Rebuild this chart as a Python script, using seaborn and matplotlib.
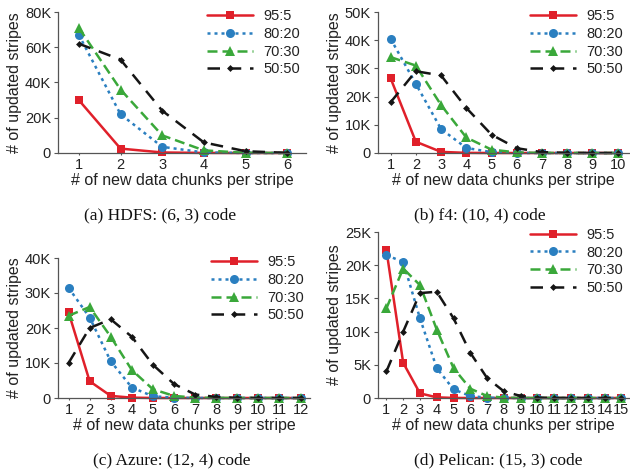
import numpy as np
import pandas as pd
import matplotlib
matplotlib.use("Agg")
import matplotlib.pyplot as plt
import seaborn as sns

sns.set_style("ticks")
plt.rcParams['font.family'] = ['Liberation Sans', 'DejaVu Sans']

ratios = ["95:5", "80:20", "70:30", "50:50"]

# (a) HDFS (6,3)
hdfs_x = [1, 2, 3, 4, 5, 6]
hdfs_95 = [30000, 2500, 300, 50, 0, 0]
hdfs_80 = [67000, 22000, 3500, 300, 20, 0]
hdfs_70 = [71000, 36000, 10000, 1500, 100, 0]
hdfs_50 = [62000, 53000, 24000, 6000, 1000, 100]

# (b) f4 (10,4)
f4_x = [1, 2, 3, 4, 5, 6, 7, 8, 9, 10]
f4_95 = [26500, 4000, 400, 50, 0, 0, 0, 0, 0, 0]
f4_80 = [40500, 24500, 8500, 1800, 300, 30, 0, 0, 0, 0]
f4_70 = [34000, 31000, 17000, 5500, 1200, 200, 20, 0, 0, 0]
f4_50 = [18000, 29000, 27500, 16000, 6500, 1700, 300, 50, 0, 0]

# (c) Azure (12,4)
azure_x = list(range(1, 13))
azure_95 = [24500, 4800, 600, 100, 10, 0, 0, 0, 0, 0, 0, 0]
azure_80 = [31500, 23000, 10500, 3000, 500, 100, 10, 0, 0, 0, 0, 0]
azure_70 = [23500, 26000, 17500, 8000, 2500, 600, 100, 10, 0, 0, 0, 0]
azure_50 = [10000, 20000, 22500, 17500, 9500, 4000, 1000, 300, 50, 0, 0, 0]

# (d) Pelican (15,3)
pelican_x = list(range(1, 16))
pelican_95 = [22300, 5300, 700, 100, 10, 0, 0, 0, 0, 0, 0, 0, 0, 0, 0]
pelican_80 = [21500, 20500, 12000, 4500, 1300, 300, 50, 0, 0, 0, 0, 0, 0, 0, 0]
pelican_70 = [13500, 19500, 17000, 10300, 4500, 1400, 300, 50, 0, 0, 0, 0, 0, 0, 0]
pelican_50 = [4000, 10000, 15800, 16000, 12000, 6800, 3000, 1000, 300, 50, 0, 0, 0, 0, 0]

panels = [
    ("(a) HDFS: (6, 3) code", hdfs_x, [hdfs_95, hdfs_80, hdfs_70, hdfs_50], 80000, 20000),
    ("(b) f4: (10, 4) code", f4_x, [f4_95, f4_80, f4_70, f4_50], 50000, 10000),
    ("(c) Azure: (12, 4) code", azure_x, [azure_95, azure_80, azure_70, azure_50], 40000, 10000),
    ("(d) Pelican: (15, 3) code", pelican_x, [pelican_95, pelican_80, pelican_70, pelican_50], 25000, 5000),
]

palette = {"95:5": "#e0202a", "80:20": "#2a7fc0", "70:30": "#3aa83a", "50:50": "#151515"}
markers = {"95:5": "s", "80:20": "o", "70:30": "^", "50:50": "D"}
dashes = {"95:5": "", "80:20": (1.2, 1.6), "70:30": (4, 2), "50:50": (5, 3.5)}
msizes = {"95:5": 6, "80:20": 6.5, "70:30": 7, "50:50": 3.5}

# axes rectangles in pixels: left, top, right, bottom
rects = [(58, 12, 306, 153), (378, 12, 629, 153), (58, 258, 310, 398), (378, 232, 629, 398)]
caps = [(160, 215), (480, 215), (172, 460), (498, 460)]

W, H = 630, 473
fig = plt.figure(figsize=(6.3, 4.73), dpi=100)

for (cap, xs, series, ymax, ystep), (l, t, r, b), (cx, cy) in zip(panels, rects, caps):
    ax = fig.add_axes([l / W, 1 - b / H, (r - l) / W, (b - t) / H])
    df = pd.DataFrame({
        "chunks": np.tile(xs, len(ratios)),
        "stripes": np.concatenate(series),
        "ratio": np.repeat(ratios, len(xs)),
    })
    sns.lineplot(data=df, x="chunks", y="stripes", hue="ratio", style="ratio",
                 palette=palette, markers=markers, dashes=dashes, hue_order=ratios,
                 style_order=ratios, linewidth=1.8, markeredgewidth=0, ax=ax, clip_on=False)
    for line, rt in zip(ax.lines, ratios):
        line.set_markersize(msizes[rt])
    ax.set_xlim(0.5, xs[-1] + 0.45)
    ax.set_ylim(0, ymax)
    ax.set_xticks(xs)
    yt = np.arange(0, ymax + 1, ystep)
    ax.set_yticks(yt)
    ax.set_yticklabels(["0" if v == 0 else f"{int(v / 1000)}K" for v in yt])
    ax.tick_params(labelsize=10.5, width=0.8, color="#555555", labelcolor="#222222", pad=2)
    ax.tick_params(axis="x", length=1.5)
    ax.tick_params(axis="y", length=3)
    sns.despine(ax=ax)
    for s in ["left", "bottom"]:
        ax.spines[s].set_color("#555555")
        ax.spines[s].set_linewidth(0.9)
    ax.set_xlabel("# of new data chunks per stripe", fontsize=11.5, color="#222222", labelpad=1)
    ax.set_ylabel("# of updated stripes", fontsize=11.5, color="#222222", labelpad=2)
    leg = ax.legend(loc="upper right", bbox_to_anchor=(1.0, 1.06), frameon=False,
                    fontsize=10.5, handlelength=3.2, handletextpad=0.7, labelspacing=0.25,
                    borderaxespad=0)
    for hl, rt in zip(leg.get_lines(), ratios):
        hl.set_markersize(msizes[rt])
        hl.set_markeredgewidth(0)
    for txt in leg.get_texts():
        txt.set_color("#222222")
    fig.text(cx / W, 1 - cy / H, cap, ha="center", va="center", fontsize=12.5,
             family="Liberation Serif", color="#111111")

fig.savefig("out.png", dpi=100)
